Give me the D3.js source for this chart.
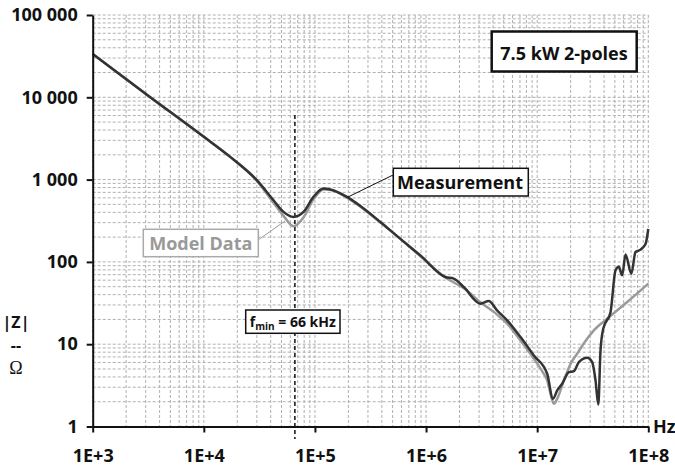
<!DOCTYPE html>
<html>
<head>
<meta charset="utf-8">
<script src="https://d3js.org/d3.v7.min.js"></script>
<style>
  body { margin: 0; background: #fff; }
  svg { display: block; font-family: "Open Sans", sans-serif; }
  .grid line { stroke: #b0b0b0; stroke-width: 1; stroke-dasharray: 3,2; }
  .axis path, .axis line { stroke: #111; stroke-width: 2; }
  .axis text { font-size: 18px; font-weight: bold; fill: #111; font-family: "Open Sans", sans-serif; }
</style>
</head>
<body>
<svg id="chart" width="675" height="469"></svg>
<script>
// frequency (Hz) and |Z| (ohm)
var measFreq = [1000, 3162, 10000, 17260, 30000, 42360, 52120, 64120, 78890, 97050,
  119400, 137400, 194100, 238800, 387300, 562300, 889200, 1.493e6, 1.774e6, 2.183e6,
  3.083e6, 3.664e6, 4.355e6, 5.37e6, 7.08e6, 9.33e6, 1.23e7, 1.387e7, 1.514e7, 1.679e7,
  1.928e7, 2.138e7, 2.371e7, 2.818e7, 3.126e7, 3.35e7, 3.548e7, 3.715e7, 3.936e7, 4.571e7,
  5.07e7, 5.433e7, 5.821e7, 6.237e7, 7.031e7, 7.674e7, 8.511e7, 9.462e7, 1e8];
var measZ = [33600, 10470, 3311, 1888, 984, 562, 405, 352, 405, 617,
  780, 759, 617, 513, 306, 200, 120, 65.5, 62.7, 49.5,
  31.1, 33.4, 25.8, 19.5, 12.2, 7.31, 4.38, 2.17, 2.74, 3.31,
  4.57, 4.71, 6.05, 6.85, 6.05, 3.63, 1.85, 8.41, 15.5, 24.5,
  79.1, 87.1, 68.7, 123, 71.9, 132, 141, 166, 251];

var modelFreq = [1000, 3162, 10000, 17260, 30000, 42360, 52120, 64120, 78890, 97050,
  119400, 137400, 194100, 238800, 387300, 562300, 889200, 1.493e6, 2.239e6, 3.083e6,
  4.355e6, 5.37e6, 7.08e6, 9.33e6, 1.122e7, 1.23e7, 1.318e7, 1.413e7, 1.514e7, 1.738e7,
  1.995e7, 2.291e7, 2.692e7, 3.236e7, 4.266e7, 6.457e7, 1e8];
var modelZ = [33600, 10470, 3311, 1888, 966, 525, 363, 272, 347, 575,
  759, 750, 603, 501, 302, 200, 117, 64.6, 46.8, 32.4,
  22.9, 17.8, 11.1, 6.67, 4.57, 3.63, 2.51, 1.89, 2.17, 3.63,
  5.75, 7.67, 10.7, 14.7, 20.4, 32.5, 54.5];

var xDecades = [1e3, 1e4, 1e5, 1e6, 1e7, 1e8];
var xTickLabels = ["1E+3", "1E+4", "1E+5", "1E+6", "1E+7", "1E+8"];
var yDecades = [1, 10, 100, 1000, 10000, 100000];
var yTickLabels = ["1", "10", "100", "1 000", "10 000", "100 000"];
var fMin = 66000;

(function() {
  var svg = d3.select("#chart");
  var pLeft = 92.7, pRight = 648.3, pTop = 15, pBottom = 426.5;

  var x = d3.scaleLog().domain([1e3, 1e8]).range([pLeft, pRight]);
  var y = d3.scaleLog().domain([1, 1e5]).range([pBottom, pTop]);

  // grid
  var grid = svg.append("g").attr("class", "grid");
  grid.selectAll(".gx").data(x.ticks()).enter().append("line")
    .attr("x1", function(d) { return x(d); }).attr("x2", function(d) { return x(d); })
    .attr("y1", pTop).attr("y2", pBottom);
  grid.selectAll(".gy").data(y.ticks()).enter().append("line")
    .attr("x1", pLeft).attr("x2", pRight)
    .attr("y1", function(d) { return y(d); }).attr("y2", function(d) { return y(d); });

  // fmin marker
  svg.append("line")
    .attr("x1", x(fMin)).attr("x2", x(fMin))
    .attr("y1", 115).attr("y2", 439)
    .attr("stroke", "#111").attr("stroke-width", 1.5).attr("stroke-dasharray", "4,3");

  // curves
  var line = d3.line()
    .x(function(d) { return x(d[0]); })
    .y(function(d) { return y(d[1]); })
    .curve(d3.curveMonotoneX);

  svg.append("path")
    .datum(d3.zip(modelFreq, modelZ))
    .attr("d", line).attr("fill", "none")
    .attr("stroke", "#9a9a9a").attr("stroke-width", 2.5);

  svg.append("path")
    .datum(d3.zip(measFreq, measZ))
    .attr("d", line).attr("fill", "none")
    .attr("stroke", "#333").attr("stroke-width", 2.5).attr("stroke-linejoin", "round");

  // axes
  svg.append("g").attr("class", "axis")
    .attr("transform", "translate(0," + pBottom + ")")
    .call(d3.axisBottom(x).tickValues(xDecades).tickSize(6).tickSizeOuter(0).tickPadding(17)
      .tickFormat(function(d, i) { return xTickLabels[i]; }));

  svg.append("g").attr("class", "axis")
    .attr("transform", "translate(" + pLeft + ",0)")
    .call(d3.axisLeft(y).tickValues(yDecades).tickSize(6).tickSizeOuter(0).tickPadding(9)
      .tickFormat(function(d, i) { return yTickLabels[i]; }));

  // axis titles
  svg.append("text").attr("x", 653).attr("y", 433)
    .attr("font-size", 18).attr("font-weight", "bold").attr("fill", "#111").text("Hz");
  svg.append("text").attr("x", 16).attr("y", 328).attr("text-anchor", "middle")
    .attr("font-size", 16).attr("font-weight", "bold").attr("fill", "#111").text("|Z|");
  svg.append("text").attr("x", 16).attr("y", 351).attr("text-anchor", "middle")
    .attr("font-size", 16).attr("font-weight", "bold").attr("fill", "#111").text("--");
  svg.append("text").attr("x", 16).attr("y", 374).attr("text-anchor", "middle")
    .attr("font-family", "'Liberation Serif', serif")
    .attr("font-size", 18).attr("fill", "#111").text("\u03A9");

  // annotation boxes
  function box(x0, y0, w, h, stroke, sw) {
    svg.append("rect").attr("x", x0).attr("y", y0).attr("width", w).attr("height", h)
      .attr("fill", "#fff").attr("stroke", stroke).attr("stroke-width", sw);
  }

  box(491.7, 31.5, 145, 40, "#111", 2.5);
  svg.append("text").attr("x", 564).attr("y", 60).attr("text-anchor", "middle")
    .attr("font-size", 18).attr("font-weight", "bold").attr("fill", "#111").text("7.5 kW 2-poles");

  svg.append("line").attr("x1", 393).attr("y1", 175).attr("x2", 348).attr("y2", 197)
    .attr("stroke", "#111").attr("stroke-width", 1);
  box(393.3, 168.3, 135, 27.7, "#111", 1.5);
  svg.append("text").attr("x", 460).attr("y", 188.5).attr("text-anchor", "middle")
    .attr("font-size", 18).attr("font-weight", "bold").attr("fill", "#111").text("Measurement");

  svg.append("line").attr("x1", 258).attr("y1", 240).attr("x2", 285).attr("y2", 221)
    .attr("stroke", "#9a9a9a").attr("stroke-width", 1);
  box(143.3, 229.3, 115, 27.4, "#aaa", 1.5);
  svg.append("text").attr("x", 200.8).attr("y", 250).attr("text-anchor", "middle")
    .attr("font-size", 18).attr("font-weight", "bold").attr("fill", "#999").text("Model Data");

  box(245.7, 310, 94.3, 23.3, "#111", 1.5);
  var ft = svg.append("text").attr("x", 292.8).attr("y", 326.5).attr("text-anchor", "middle")
    .attr("font-size", 14).attr("font-weight", "bold").attr("fill", "#111");
  ft.append("tspan").text("f");
  ft.append("tspan").attr("font-size", 10).attr("dy", 3).text("min");
  ft.append("tspan").attr("dy", -3).text(" = 66 kHz");
})();
</script>
</body>
</html>
